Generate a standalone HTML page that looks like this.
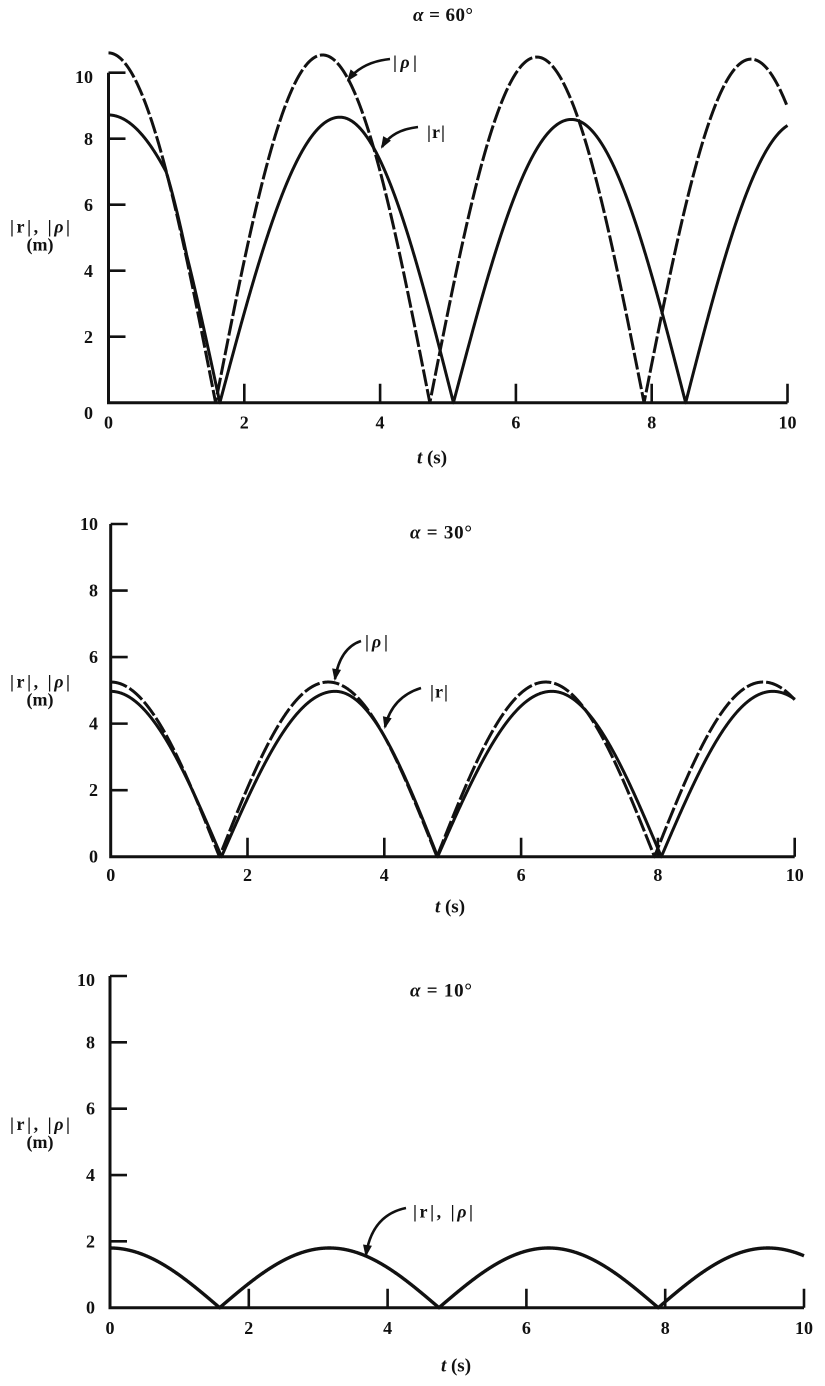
<!DOCTYPE html>
<html><head><meta charset="utf-8"><style>
html,body{margin:0;padding:0;background:#fff;}
svg{display:block;}
text{font-family:"Liberation Serif",serif;font-weight:bold;fill:#111;font-size:18px;}
text.tt{font-size:19px;}
</style></head><body>
<svg id="s" width="825" height="1386" viewBox="0 0 825 1386" xmlns="http://www.w3.org/2000/svg">
<rect width="825" height="1386" fill="#fff"/>
<g id="g"></g>

<!-- Panel 1 -->
<text class="tt" x="443" y="21" text-anchor="middle" textLength="60" lengthAdjust="spacing"><tspan font-style="italic">α</tspan> = 60°</text>
<g text-anchor="end">
<text x="93" y="83">10</text><text x="93" y="145">8</text><text x="93" y="211">6</text><text x="93" y="277">4</text><text x="93" y="343">2</text><text x="93" y="419">0</text>
</g>
<g text-anchor="middle">
<text x="108.5" y="428.5">0</text><text x="244.3" y="428.5">2</text><text x="380" y="428.5">4</text><text x="515.9" y="428.5">6</text><text x="651.7" y="428.5">8</text><text x="787.5" y="428.5">10</text>
<text class="tt" x="432" y="463.5"><tspan font-style="italic">t</tspan> (s)</text>
<text x="40" y="232.5" textLength="60" lengthAdjust="spacing">|r|, |<tspan font-style="italic">ρ</tspan>|</text>
<text x="40" y="250.5">(m)</text>
</g>
<text x="393" y="68" textLength="24" lengthAdjust="spacing">|<tspan font-style="italic">ρ</tspan>|</text>
<text x="427" y="138" textLength="18" lengthAdjust="spacing">|r|</text>

<!-- Panel 2 -->
<text class="tt" x="441" y="538.5" text-anchor="middle" textLength="62" lengthAdjust="spacing"><tspan font-style="italic">α</tspan> = 30°</text>
<g text-anchor="end">
<text x="98" y="530">10</text><text x="98" y="596.5">8</text><text x="98" y="663">6</text><text x="98" y="729.5">4</text><text x="98" y="796.2">2</text><text x="98" y="862.7">0</text>
</g>
<g text-anchor="middle">
<text x="110.7" y="881">0</text><text x="247.5" y="881">2</text><text x="384.3" y="881">4</text><text x="521.1" y="881">6</text><text x="657.9" y="881">8</text><text x="794.7" y="881">10</text>
<text class="tt" x="450" y="912.5"><tspan font-style="italic">t</tspan> (s)</text>
<text x="40" y="687.5" textLength="60" lengthAdjust="spacing">|r|, |<tspan font-style="italic">ρ</tspan>|</text>
<text x="40" y="705.5">(m)</text>
</g>
<text x="365" y="647.5" textLength="23" lengthAdjust="spacing">|<tspan font-style="italic">ρ</tspan>|</text>
<text x="430" y="697.5" textLength="18" lengthAdjust="spacing">|r|</text>

<!-- Panel 3 -->
<text class="tt" x="441" y="996.5" text-anchor="middle" textLength="62" lengthAdjust="spacing"><tspan font-style="italic">α</tspan> = 10°</text>
<g text-anchor="end">
<text x="95" y="986">10</text><text x="95" y="1048.5">8</text><text x="95" y="1114.7">6</text><text x="95" y="1181">4</text><text x="95" y="1247.4">2</text><text x="95" y="1313.7">0</text>
</g>
<g text-anchor="middle">
<text x="110" y="1334">0</text><text x="248.8" y="1334">2</text><text x="387.6" y="1334">4</text><text x="526.4" y="1334">6</text><text x="665.2" y="1334">8</text><text x="804" y="1334">10</text>
<text class="tt" x="456" y="1371.5"><tspan font-style="italic">t</tspan> (s)</text>
<text x="40" y="1130" textLength="60" lengthAdjust="spacing">|r|, |<tspan font-style="italic">ρ</tspan>|</text>
<text x="40" y="1148">(m)</text>
</g>
<text x="413" y="1217.5" textLength="60" lengthAdjust="spacing">|r|, |<tspan font-style="italic">ρ</tspan>|</text>
</svg>
<script>
(function(){
var NS="http://www.w3.org/2000/svg";
var g=document.getElementById("g");
function el(tag,attrs){var e=document.createElementNS(NS,tag);for(var k in attrs)e.setAttribute(k,attrs[k]);g.appendChild(e);return e;}
var P=Math.PI;
function axes(p){
  var X=function(t){return p.x0+p.sx*t;}, Y=function(v){return p.y0-p.sy*v;};
  el("path",{d:"M"+p.x0+" "+Y(10)+" L"+p.x0+" "+p.y0+" L"+X(10)+" "+p.y0,fill:"none",stroke:"#111","stroke-width":3,"stroke-linejoin":"miter"});
  var d="";
  for(var v=2;v<=10;v+=2){d+="M"+p.x0+" "+Y(v)+" L"+(p.x0+17)+" "+Y(v)+" ";}
  for(var t=2;t<=10;t+=2){d+="M"+X(t)+" "+p.y0+" L"+X(t)+" "+(p.y0-19)+" ";}
  el("path",{d:d,fill:"none",stroke:"#111","stroke-width":2.6});
}
function interp(kn,t){
  for(var i=0;i<kn.length-1;i++){
    if(t<=kn[i+1][0]||i==kn.length-2){
      var a=kn[i],b=kn[i+1];return a[1]+(b[1]-a[1])*(t-a[0])/(b[0]-a[0]);
    }
  }
}
function curve(p,f,dash,w){
  var d="";var n=2000;
  for(var i=0;i<=n;i++){
    var t=10*i/n;var x=p.x0+p.sx*t, y=p.y0-p.sy*f(t);
    d+=(i?"L":"M")+x.toFixed(2)+" "+y.toFixed(2)+" ";
  }
  var a={d:d,fill:"none",stroke:"#111","stroke-width":w||3,"stroke-linejoin":"round"};
  if(dash)a["stroke-dasharray"]=dash;
  el("path",a);
}
function arrow(sx,sy,cx,cy,tx,ty){
  el("path",{d:"M"+sx+" "+sy+" Q"+cx+" "+cy+" "+tx+" "+ty,fill:"none",stroke:"#111","stroke-width":2.6});
  var dx=tx-cx,dy=ty-cy,L=Math.sqrt(dx*dx+dy*dy);dx/=L;dy/=L;
  var bx=tx-dx*10,by=ty-dy*10,nx=-dy*4.5,ny=dx*4.5;
  el("path",{d:"M"+(tx+dx*2)+" "+(ty+dy*2)+" L"+(bx+nx)+" "+(by+ny)+" L"+(bx-nx)+" "+(by-ny)+" Z",fill:"#111"});
}
// Panel 1
var p1={x0:108.5,sx:67.9,y0:402.7,sy:33.0};
axes(p1);
curve(p1,function(t){return (10.6-0.02*t)*Math.abs(Math.cos(P*t/3.155));},"17 3",3);
var k1=[[0,0],[0.85,0.638],[1.15,1.029],[1.64,P/2],[3.41,P],[5.08,1.5*P],[6.82,2*P],[8.50,2.5*P],[10,2.5*P+1.5*(P/2)/1.68]];
curve(p1,function(t){return (8.72-0.02*t)*Math.abs(Math.cos(interp(k1,t)));},null,3);
arrow(390,59,362,62,348,80);
arrow(418,127,392,130,382,147);
// Panel 2
var p2={x0:110.7,sx:68.4,y0:856.7,sy:33.27};
axes(p2);
curve(p2,function(t){return 5.25*Math.abs(Math.cos(P*t/3.18));},"17 3",3);
var k2=[[0,0],[1.62,P/2],[3.28,P],[4.78,1.5*P],[6.45,2*P],[8.05,2.5*P],[9.68,3*P],[10,3*P+0.32*(P/2)/1.63]];
curve(p2,function(t){return 4.97*Math.abs(Math.cos(interp(k2,t)));},null,3);
arrow(361,641,340,648,335,679);
arrow(421,688,392,697,385,727);
// Panel 3
var p3={x0:110,sx:69.4,y0:1307.7,sy:33.17};
axes(p3);
curve(p3,function(t){return 1.8*Math.abs(Math.cos(P*t/3.16));},null,3.4);
arrow(406,1208,372,1215,366,1255);
})();
</script>
</body></html>
